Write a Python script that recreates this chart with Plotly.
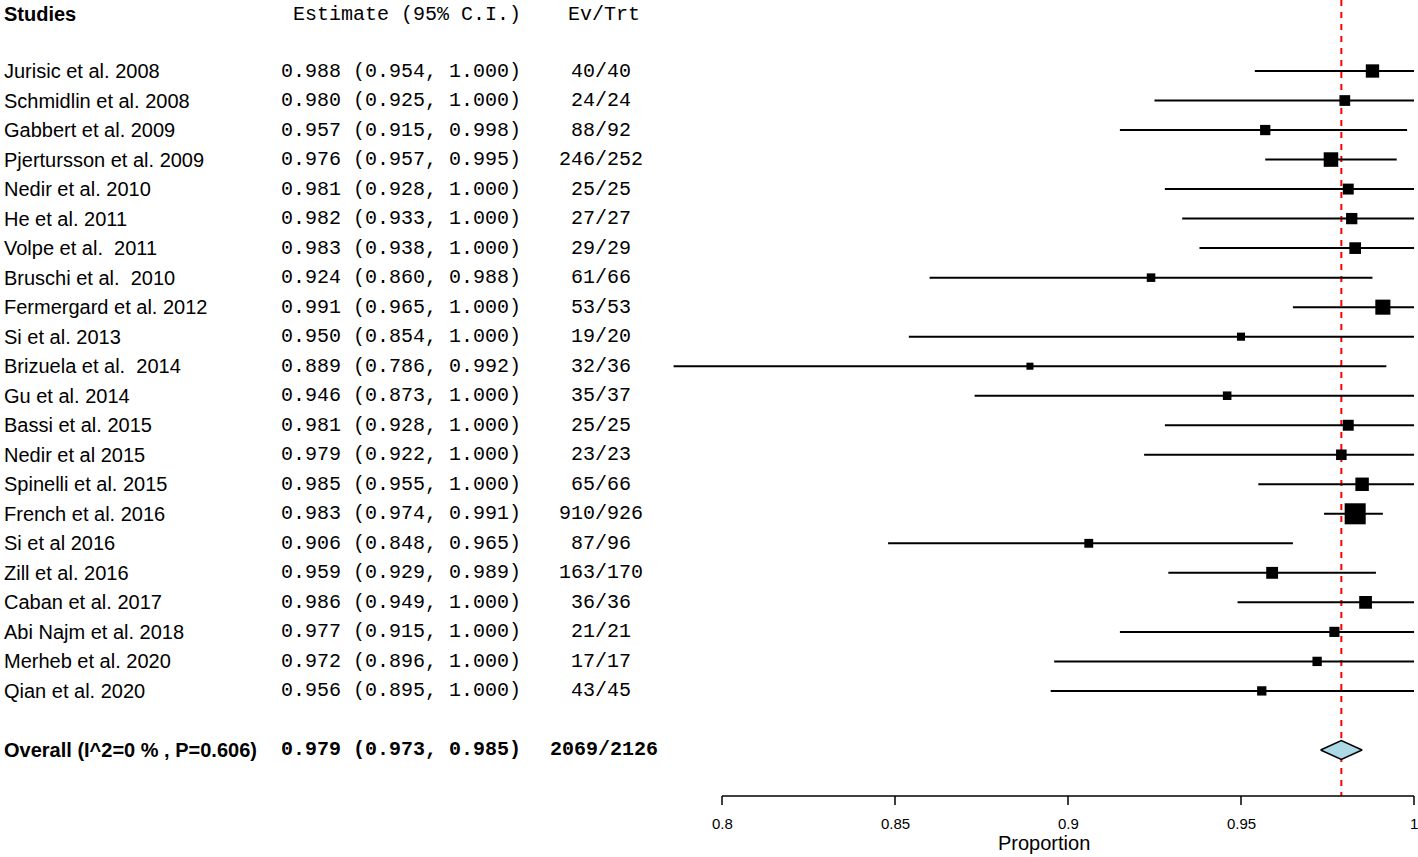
import plotly.graph_objects as go

# study data
studies = ["Jurisic et al. 2008", "Schmidlin et al. 2008", "Gabbert et al. 2009",
           "Pjertursson et al. 2009", "Nedir et al. 2010", "He et al. 2011",
           "Volpe et al.  2011", "Bruschi et al.  2010", "Fermergard et al. 2012",
           "Si et al. 2013", "Brizuela et al.  2014", "Gu et al. 2014",
           "Bassi et al. 2015", "Nedir et al 2015", "Spinelli et al. 2015",
           "French et al. 2016", "Si et al 2016", "Zill et al. 2016",
           "Caban et al. 2017", "Abi Najm et al. 2018", "Merheb et al. 2020",
           "Qian et al. 2020"]
est = [0.988, 0.980, 0.957, 0.976, 0.981, 0.982, 0.983, 0.924, 0.991, 0.950, 0.889,
       0.946, 0.981, 0.979, 0.985, 0.983, 0.906, 0.959, 0.986, 0.977, 0.972, 0.956]
lower = [0.954, 0.925, 0.915, 0.957, 0.928, 0.933, 0.938, 0.860, 0.965, 0.854, 0.786,
         0.873, 0.928, 0.922, 0.955, 0.974, 0.848, 0.929, 0.949, 0.915, 0.896, 0.895]
upper = [1.000, 1.000, 0.998, 0.995, 1.000, 1.000, 1.000, 0.988, 1.000, 1.000, 0.992,
         1.000, 1.000, 1.000, 1.000, 0.991, 0.965, 0.989, 1.000, 1.000, 1.000, 1.000]
events = [40, 24, 88, 246, 25, 27, 29, 61, 53, 19, 32, 35, 25, 23, 65, 910, 87, 163,
          36, 21, 17, 43]
totals = [40, 24, 92, 252, 25, 27, 29, 66, 53, 20, 36, 37, 25, 23, 66, 926, 96, 170,
          36, 21, 17, 45]

overall_label = "Overall (I^2=0 % , P=0.606)"
overall_est, overall_lo, overall_hi = 0.979, 0.973, 0.985
tick_vals = [0.8, 0.85, 0.9, 0.95, 1.0]
tick_text = ["0.8", "0.85", "0.9", "0.95", "1"]

W, H = 1418, 857
ROW0, ROWH = 71, 29.52  # pixel of first study row, row height


def row_of(py):
    return (py - ROW0) / ROWH


def px(x):
    return x / W


# x scale: 0.8 -> 722px, 1.0 -> 1414px
scale = (1414 - 722) / 0.2
x_range = [0.8 - 722 / scale, 1.0 + (W - 1414) / scale]

n = len(studies)
rows = list(range(n))
ov_row = n + 1

SANS = "Liberation Sans, Arial, sans-serif"
MONO = "Liberation Mono, Courier New, monospace"

fig = go.Figure()

# confidence interval lines
cx, cy = [], []
for i in rows:
    cx += [lower[i], upper[i], None]
    cy += [i, i, None]
fig.add_trace(go.Scatter(x=cx, y=cy, mode="lines",
                         line=dict(color="black", width=2), hoverinfo="skip"))

# boxes sized by precision
sizes = [1.4 + 2.56 * (1 / (upper[i] - lower[i])) ** 0.5 for i in rows]
fig.add_trace(go.Scatter(x=est, y=rows, mode="markers",
                         marker=dict(symbol="square", size=sizes, color="black",
                                     opacity=1, line=dict(width=0))))

# overall diamond
h = 0.32
fig.add_trace(go.Scatter(
    x=[overall_lo, overall_est, overall_hi, overall_est, overall_lo],
    y=[ov_row, ov_row - h, ov_row, ov_row + h, ov_row],
    mode="lines", fill="toself", fillcolor="#ADD8E6",
    line=dict(color="black", width=1.5)))

axis_row = row_of(796)

# dashed reference line at the pooled estimate (behind the marks)
fig.add_shape(type="line", x0=overall_est, x1=overall_est, y0=row_of(0), y1=axis_row,
              xref="x", yref="y", layer="below",
              line=dict(color="red", width=2, dash="6px,6px"))

# bottom axis restricted to 0.8-1
fig.add_shape(type="line", x0=tick_vals[0], x1=tick_vals[-1], y0=axis_row, y1=axis_row,
              xref="x", yref="y", line=dict(color="black", width=1.5))
for tv, tt in zip(tick_vals, tick_text):
    fig.add_shape(type="line", x0=tv, x1=tv, y0=axis_row, y1=row_of(805),
                  xref="x", yref="y", line=dict(color="black", width=1.5))
    fig.add_annotation(x=tv, y=row_of(823), xref="x", yref="y", text=tt,
                       showarrow=False, font=dict(family=SANS, size=15, color="black"))
# x label centred on the plotted data extent
fig.add_annotation(x=(min(lower) + tick_vals[-1]) / 2, y=row_of(843), xref="x", yref="y",
                   text="Proportion", showarrow=False,
                   font=dict(family=SANS, size=20, color="black"))

# text columns
def add_text(x, y, text, anchor, family, bold=False):
    if bold:
        text = "<b>" + text + "</b>"
    fig.add_annotation(x=px(x), y=y, xref="paper", yref="y", text=text,
                       xanchor=anchor, yanchor="middle", showarrow=False,
                       font=dict(family=family, size=20, color="black"))


head_row = row_of(14)
add_text(2, head_row, "Studies", "left", SANS, bold=True)
add_text(523, head_row, "Estimate (95% C.I.)", "right", MONO)
add_text(604, head_row, "Ev/Trt", "center", MONO)

for i in rows:
    add_text(2, i, studies[i].replace("  ", " \u00a0"), "left", SANS)
    add_text(523, i, f"{est[i]:.3f} ({lower[i]:.3f}, {upper[i]:.3f})", "right", MONO)
    add_text(601, i, f"{events[i]}/{totals[i]}", "center", MONO)

add_text(2, ov_row, overall_label, "left", SANS, bold=True)
add_text(523, ov_row, f"{overall_est:.3f} ({overall_lo:.3f}, {overall_hi:.3f})",
         "right", MONO, bold=True)
add_text(604, ov_row, f"{sum(events)}/{sum(totals)}", "center", MONO, bold=True)

fig.update_layout(
    width=W, height=H,
    margin=dict(l=0, r=0, t=0, b=0),
    plot_bgcolor="white", paper_bgcolor="white",
    showlegend=False,
    xaxis=dict(range=x_range, visible=False, domain=[0, 1]),
    yaxis=dict(range=[row_of(H), row_of(0)], visible=False, domain=[0, 1]),
)

fig.write_html("out.html", config={"displayModeBar": False},
               post_script="document.body.style.margin='0';document.body.style.overflow='hidden';")
